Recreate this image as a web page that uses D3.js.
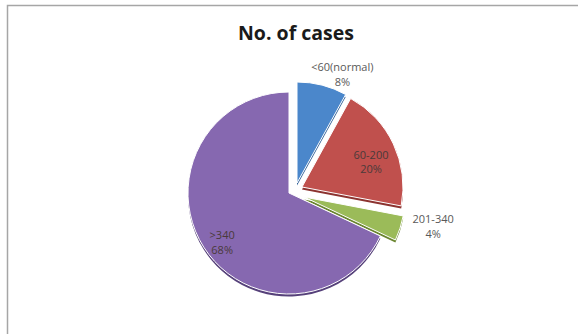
<!DOCTYPE html>
<html>
<head>
<meta charset="utf-8">
<script src="https://cdn.jsdelivr.net/npm/d3@7"></script>
<style>
  body { margin: 0; background: #fff; }
  text { font-family: "Open Sans", "DejaVu Sans", sans-serif; }
</style>
</head>
<body>
<script>
// data
const categories = ['<60(normal)', '60-200', '201-340', '>340'];
const percents = [8, 20, 4, 68];
const colors = ['#4b87cb', '#c0504d', '#9bbb59', '#8668b0'];
const darkColors = ['#2f5f96', '#8c3330', '#6a852f', '#56417a'];

const width = 578, height = 334;
const cx = 289, cy = 193, radius = 101;

// how far each slice is pulled out from the middle
const explode = [[8, -10], [13, -6], [15, 4], [0, 0]];
// label placement : radius from slice center and small angle nudge (deg)
const labelR = [119, 74, 132, 82];
const labelNudge = [8, 4, -6, -3];

const svg = d3.select('body').append('svg')
  .attr('width', width)
  .attr('height', height);

// chart frame
svg.append('rect')
  .attr('x', 7.5)
  .attr('y', 5.5)
  .attr('width', 600)
  .attr('height', 400)
  .attr('fill', '#fff')
  .attr('stroke', '#a6a6a6')
  .attr('stroke-width', 1.5);

svg.append('text')
  .attr('x', 296)
  .attr('y', 40)
  .attr('text-anchor', 'middle')
  .style('font-size', '19.5px')
  .style('font-weight', 'bold')
  .attr('fill', '#1a1a1a')
  .text('No. of cases');

const pie = d3.pie().sort(null).value((d) => d);
const slices = pie(percents);

const arc = d3.arc().innerRadius(0).outerRadius(radius);

const g = svg.append('g').attr('transform', `translate(${cx},${cy})`);

// fake 3d edge under every slice
g.selectAll('.edge')
  .data(slices)
  .enter()
  .append('path')
  .attr('class', 'edge')
  .attr('transform', (d, i) => `translate(${explode[i][0]},${explode[i][1] + 2.5})`)
  .attr('d', arc)
  .attr('fill', (d, i) => darkColors[i]);

g.selectAll('.slice')
  .data(slices)
  .enter()
  .append('path')
  .attr('class', 'slice')
  .attr('transform', (d, i) => `translate(${explode[i][0]},${explode[i][1]})`)
  .attr('d', arc)
  .attr('fill', (d, i) => colors[i])
  .attr('stroke', '#fff')
  .attr('stroke-width', 1);

// data labels, two lines each
const labels = g.selectAll('.lbl')
  .data(slices)
  .enter()
  .append('text')
  .attr('class', 'lbl')
  .attr('text-anchor', 'middle')
  .style('font-size', '11px')
  .attr('fill', (d, i) => (i == 0 || i == 2) ? '#595959' : '#4a3a3a')
  .attr('transform', (d, i) => {
    let a = (d.startAngle + d.endAngle) / 2 + labelNudge[i] * Math.PI / 180;
    let x = explode[i][0] + labelR[i] * Math.sin(a);
    let y = explode[i][1] - labelR[i] * Math.cos(a);
    return `translate(${x},${y})`;
  });

labels.append('tspan')
  .attr('x', 0)
  .attr('dy', '-0.15em')
  .text((d, i) => categories[i]);

labels.append('tspan')
  .attr('x', 0)
  .attr('dy', '1.35em')
  .text((d) => d.data + '%');
</script>
</body>
</html>
